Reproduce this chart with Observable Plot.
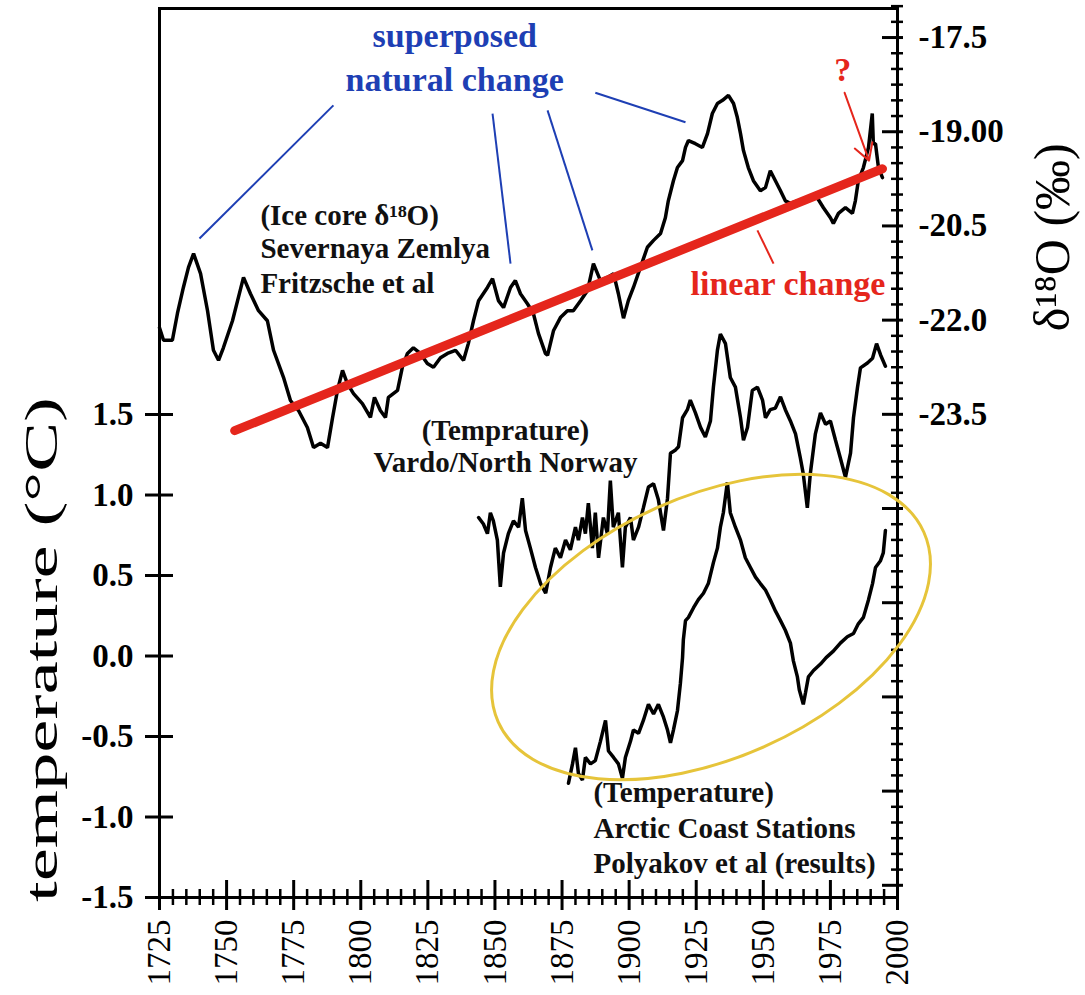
<!DOCTYPE html>
<html>
<head>
<meta charset="utf-8">
<script src="https://cdn.jsdelivr.net/npm/d3@7"></script>
<script src="https://cdn.jsdelivr.net/npm/@observablehq/plot@0.6"></script>
<style>
  html, body { margin: 0; padding: 0; background: #ffffff; }
  #chart svg { display: block; }
</style>
</head>
<body>
<div id="chart"></div>
<script>
// ---------------- data ----------------
// Ice core δ18O, Severnaya Zemlya (right axis, ‰)
const iceYears = [1725,1726.5,1729.8,1731.7,1733.9,1735.8,1737.7,1740.3,1742.9,1745.1,
  1747.0,1748.8,1752.2,1754.1,1756.3,1758.9,1761.9,1765.2,1767.5,1771.2,
  1773.8,1776.8,1780.1,1782.4,1785.0,1787.6,1789.5,1791.3,1793.2,1795.0,
  1797.3,1800.6,1803.6,1805.1,1807.3,1809.2,1810.3,1813.7,1815.5,1817.4,
  1819.6,1822.2,1824.8,1827.1,1829.7,1832.3,1835.3,1838.3,1840.1,1842.0,
  1843.9,1847.2,1849.1,1851.3,1853.2,1855.8,1857.6,1859.5,1862.1,1864.3,
  1866.2,1868.8,1869.6,1871.8,1874.4,1877.0,1879.2,1881.9,1884.5,1886.7,
  1889.3,1891.9,1894.2,1896.0,1897.9,1899.7,1901.6,1904.2,1906.8,1909.1,
  1911.7,1913.5,1914.6,1916.5,1918.0,1919.9,1921.0,1922.1,1924.7,1927.3,
  1929.2,1931.0,1932.9,1934.8,1937.0,1938.9,1940.3,1941.5,1942.6,1944.4,
  1946.3,1948.9,1950.8,1952.6,1954.5,1956.4,1958.2,1960.1,1962.7,1964.9,
  1967.5,1970.2,1972.4,1975.0,1976.1,1978.0,1980.6,1983.2,1984.3,1985.4,
  1987.3,1989.2,1990.6,1991.0,1991.8,1992.9,1994.4];
const iceD18O = [-22.12,-22.32,-22.32,-21.89,-21.48,-21.16,-20.94,-21.26,-21.85,-22.48,
  -22.64,-22.44,-22.01,-21.69,-21.32,-21.58,-21.85,-22.01,-22.48,-22.91,
  -23.28,-23.44,-23.71,-24.03,-23.96,-24.03,-23.55,-23.12,-22.80,-23.01,
  -23.17,-23.33,-23.55,-23.23,-23.44,-23.55,-23.23,-23.12,-22.75,-22.53,
  -22.44,-22.53,-22.69,-22.75,-22.60,-22.53,-22.48,-22.64,-22.37,-22.01,
  -21.69,-21.48,-21.34,-21.69,-21.80,-21.48,-21.37,-21.58,-21.74,-21.89,
  -22.21,-22.53,-22.56,-22.17,-21.96,-21.85,-21.85,-21.69,-21.53,-21.10,
  -21.37,-21.32,-21.26,-21.58,-21.97,-21.69,-21.48,-21.16,-20.84,-20.73,
  -20.62,-20.37,-20.10,-19.78,-19.57,-19.46,-19.25,-19.14,-19.19,-19.25,
  -19.03,-18.71,-18.55,-18.50,-18.42,-18.55,-18.77,-19.03,-19.30,-19.57,
  -19.78,-19.94,-19.89,-19.62,-19.78,-19.94,-20.10,-20.14,-20.10,-20.14,
  -20.05,-20.06,-20.21,-20.37,-20.46,-20.30,-20.21,-20.30,-20.10,-19.78,
  -19.57,-19.25,-18.71,-19.19,-19.19,-19.57,-19.73];

// Vardo / North Norway temperature (left axis, °C)
const vardoYears = [1843.9,1845.7,1847.2,1848.3,1849.4,1850.9,1852.0,1853.2,1855.0,1856.9,
  1858.8,1860.2,1861.4,1863.2,1865.1,1867.0,1868.9,1870.7,1872.5,1874.4,
  1876.3,1878.1,1880.0,1881.1,1882.6,1883.7,1884.8,1886.3,1887.4,1888.6,
  1890.4,1891.9,1893.0,1894.1,1896.0,1897.5,1898.6,1900.5,1901.6,1903.5,
  1905.3,1907.2,1909.1,1910.9,1912.8,1914.3,1915.4,1917.3,1918.4,1919.9,
  1921.7,1922.8,1924.7,1926.6,1928.4,1930.3,1931.4,1932.9,1934.0,1935.9,
  1937.7,1939.6,1941.5,1942.6,1944.1,1945.9,1947.8,1949.7,1950.8,1952.6,
  1954.5,1956.4,1958.2,1960.1,1962.0,1963.8,1964.9,1966.4,1967.5,1969.4,
  1971.3,1973.2,1975.0,1976.9,1978.7,1980.6,1982.5,1983.6,1985.1,1986.2,
  1988.8,1990.7,1992.2,1993.7,1995.5];
const vardoTemp = [0.86,0.82,0.76,0.89,0.84,0.72,0.43,0.64,0.76,0.84,
  0.80,0.98,0.78,0.67,0.55,0.45,0.39,0.55,0.67,0.61,
  0.72,0.66,0.80,0.72,0.86,0.76,0.95,0.67,0.89,0.61,
  0.86,0.76,1.09,0.80,0.89,0.55,0.80,0.86,0.72,0.80,
  0.92,1.05,1.07,0.97,0.78,0.98,1.26,1.28,1.30,1.48,
  1.53,1.59,1.51,1.42,1.36,1.46,1.67,1.90,2.00,1.94,
  1.73,1.67,1.48,1.34,1.42,1.65,1.67,1.59,1.48,1.53,
  1.54,1.61,1.53,1.46,1.38,1.23,1.13,0.92,1.13,1.38,
  1.51,1.44,1.46,1.34,1.23,1.11,1.26,1.48,1.67,1.79,
  1.82,1.85,1.94,1.87,1.80];

// Arctic Coast Stations temperature, Polyakov et al (left axis, °C)
const arcticYears = [1877.4,1878.9,1880.0,1881.1,1882.6,1883.7,1885.6,1887.4,1889.3,1891.2,
  1892.3,1894.2,1896.0,1897.5,1898.6,1900.5,1901.6,1903.5,1905.3,1907.2,
  1909.1,1910.9,1912.8,1914.3,1915.4,1916.5,1918.0,1919.1,1919.9,1920.2,
  1921.0,1922.1,1924.0,1925.8,1927.7,1929.5,1931.4,1932.9,1934.0,1935.1,
  1936.6,1937.7,1939.6,1941.5,1943.3,1945.2,1947.1,1948.9,1950.8,1952.6,
  1954.5,1956.4,1958.2,1960.1,1961.2,1962.7,1963.4,1964.9,1965.7,1966.8,
  1968.7,1971.3,1973.4,1976.1,1978.7,1981.3,1983.6,1985.4,1987.3,1989.2,
  1990.7,1991.8,1993.6,1994.7,1995.5];
const arcticTemp = [-0.79,-0.67,-0.57,-0.73,-0.77,-0.63,-0.67,-0.65,-0.53,-0.40,
  -0.59,-0.63,-0.67,-0.76,-0.63,-0.53,-0.46,-0.48,-0.40,-0.30,
  -0.36,-0.30,-0.38,-0.46,-0.54,-0.46,-0.34,-0.17,-0.01,0.10,
  0.22,0.24,0.30,0.35,0.39,0.45,0.58,0.67,0.80,0.89,
  1.08,0.89,0.80,0.72,0.61,0.55,0.49,0.45,0.41,0.35,
  0.28,0.22,0.16,0.08,-0.03,-0.13,-0.21,-0.30,-0.23,-0.13,
  -0.09,-0.05,-0.01,0.03,0.08,0.12,0.14,0.20,0.24,0.35,
  0.45,0.55,0.59,0.64,0.78];

// Linear change (red) endpoints, in δ18O units
const trendYears = [1753, 1994.4];
const trendD18O = [-23.76, -19.59];

// Tick values and labels
const xTickYears = [1725,1750,1775,1800,1825,1850,1875,1900,1925,1950,1975,2000];
const xMinorYears = d3.range(1725, 2001, 5).filter(y => y % 25 !== 0);
const leftTicks = [-1.5,-1.0,-0.5,0.0,0.5,1.0,1.5];
const leftTickLabels = ["-1.5","-1.0","-0.5","0.0","0.5","1.0","1.5"];
const rightTicks = [-17.5,-19.0,-20.5,-22.0,-23.5];
const rightTickLabels = ["-17.5","-19.00","-20.5","-22.0","-23.5"];
const rightMajorTicks = [-17.5,-19.0,-20.5,-22.0,-23.5,-25.0,-26.5,-28.0,-29.5,-31.0];
const rightMinorTicks = d3.range(-17.0, -31.01, -0.25).filter(v => !rightMajorTicks.some(m => Math.abs(m - v) < 1e-6));

// Annotation texts
const leftTitle = "temperature (°C)";
const rightTitle = "δ¹⁸O (‰)";
const iceLabel = ["(Ice core δ¹⁸O)", "Severnaya Zemlya", "Fritzsche et al"];
const vardoLabel = ["(Temprature)", "Vardo/North Norway"];
const arcticLabel = ["(Temperature)", "Arctic Coast Stations", "Polyakov et al (results)"];
const naturalLabel = ["superposed", "natural change"];

// ---------------- layout ----------------
const W = 1085, H = 995;
const mL = 159, mR = 188, mT = 8, mB = 98;
const plotW = W - mL - mR, plotH = H - mT - mB;
const serif = "'Liberation Serif', 'Times New Roman', Times, serif";
const RED = "#e5261c", BLUE = "#1e3fb4", YELLOW = "#e6c43a";

// right-axis (δ18O ‰) value expressed in left-axis units
const toT = d => 3.8416 + 0.39006 * (d + 17.5);

const idx = n => d3.range(n);

// annotation placement (years / axis units)
const iceLabelPos = {x: 1762.6, d: [-20.33, -20.86, -21.42]};
const vardoLabelPos = {x: 1853.9, t: [1.40, 1.20]};
const arcticLabelPos = {x: 1886.7, t: [-0.85, -1.07, -1.29]};
const naturalPos = {x: 1835.0, d: [-17.48, -18.17]};
const leaders = [
  {x1: 1789.8, d1: -18.58, x2: 1739.9, d2: -20.70},
  {x1: 1849.1, d1: -18.71, x2: 1855.8, d2: -21.10},
  {x1: 1869.6, d1: -18.66, x2: 1886.3, d2: -20.89},
  {x1: 1887.4, d1: -18.38, x2: 1921.0, d2: -18.85}
];
const linearPointer = {x1: 1947.8, d1: -20.57, x2: 1953.8, d2: -21.10};
const linearLabelPos = {x: 1995.5, d: -21.42};
const questionPos = {x: 1979.6, d: -18.02};
const questionArrow = {x1: 1980.3, d1: -18.38, x2: 1989.4, d2: -19.46};
const ellipseSpec = {x: 1930.7, t: 0.177, rx: 233, ry: 131, angle: -24};

const chart = Plot.plot({
  width: W, height: H,
  marginLeft: mL, marginRight: mR, marginTop: mT, marginBottom: mB,
  style: {fontFamily: serif, background: "#ffffff", color: "#000000", overflow: "visible"},
  x: {domain: [1725, 2000], axis: null},
  y: {domain: [-1.5, 4.022], axis: null},
  marks: [
    Plot.frame({stroke: "#000", strokeWidth: 3}),
    // bottom axis ticks (crossing the axis line)
    Plot.tickX(xTickYears, {x: d => d, insetTop: plotH - 17, insetBottom: -13, stroke: "#000", strokeWidth: 3}),
    Plot.tickX(xMinorYears, {x: d => d, insetTop: plotH - 8, insetBottom: -8, stroke: "#000", strokeWidth: 2.5}),
    // left axis ticks
    Plot.tickY(leftTicks, {y: d => d, insetLeft: -14, insetRight: plotW - 14, stroke: "#000", strokeWidth: 3}),
    // right axis ticks (δ18O)
    Plot.tickY(rightMajorTicks, {y: d => toT(d), insetLeft: plotW - 15, insetRight: -6, stroke: "#000", strokeWidth: 3}),
    Plot.tickY(rightMinorTicks, {y: d => toT(d), insetLeft: plotW - 6, insetRight: -6, stroke: "#000", strokeWidth: 2.5}),
    // tick labels
    Plot.axisX(xTickYears, {anchor: "bottom", tickSize: 0, tickPadding: 22, tickRotate: -90,
      fontSize: 33, tickFormat: d => String(d)}),
    Plot.axisY(leftTicks, {anchor: "left", tickSize: 0, tickPadding: 26, fontSize: 33, fontWeight: "bold",
      tickFormat: d => leftTickLabels[leftTicks.findIndex(v => Math.abs(v - d) < 1e-9)]}),
    Plot.axisY(rightTicks.map(toT), {anchor: "right", tickSize: 0, tickPadding: 21, fontSize: 33, fontWeight: "bold",
      textAnchor: "start",
      tickFormat: d => rightTickLabels[rightTicks.findIndex(v => Math.abs(toT(v) - d) < 1e-9)]}),
    // axis titles
    Plot.text([leftTitle], {frameAnchor: "left", textAnchor: "middle", y: [0.04], dx: -117, rotate: -90,
      fontSize: 46, fill: "#000"}),
    Plot.text([rightTitle], {frameAnchor: "right", textAnchor: "middle", y: [toT(-20.68)], dx: 155, rotate: -90,
      fontSize: 50, fill: "#000"}),
    // data series
    Plot.line(idx(iceYears.length), {x: i => iceYears[i], y: i => toT(iceD18O[i]),
      stroke: "#000", strokeWidth: 3.5, strokeLinejoin: "miter"}),
    Plot.line(idx(vardoYears.length), {x: i => vardoYears[i], y: i => vardoTemp[i],
      stroke: "#000", strokeWidth: 3.5, strokeLinejoin: "miter"}),
    Plot.line(idx(arcticYears.length), {x: i => arcticYears[i], y: i => arcticTemp[i],
      stroke: "#000", strokeWidth: 3.5, strokeLinejoin: "miter"}),
    // linear change
    Plot.line(idx(2), {x: i => trendYears[i], y: i => toT(trendD18O[i]),
      stroke: RED, strokeWidth: 9}),
    Plot.link([linearPointer], {x1: "x1", y1: d => toT(d.d1), x2: "x2", y2: d => toT(d.d2),
      stroke: RED, strokeWidth: 2}),
    Plot.text(["linear change"], {x: [linearLabelPos.x], y: [toT(linearLabelPos.d)], textAnchor: "end",
      fontSize: 34, fontWeight: "bold", fill: RED}),
    Plot.text(["?"], {x: [questionPos.x], y: [toT(questionPos.d)], fontSize: 34, fontWeight: "bold", fill: RED}),
    Plot.arrow([questionArrow], {x1: "x1", y1: d => toT(d.d1), x2: "x2", y2: d => toT(d.d2),
      stroke: RED, strokeWidth: 2, headLength: 14}),
    // superposed natural change
    Plot.link(leaders, {x1: "x1", y1: d => toT(d.d1), x2: "x2", y2: d => toT(d.d2),
      stroke: BLUE, strokeWidth: 2}),
    Plot.text(naturalLabel, {x: naturalPos.x, y: (d, i) => toT(naturalPos.d[i]),
      fontSize: 34, fontWeight: "bold", fill: BLUE}),
    // series labels
    Plot.text(iceLabel, {x: iceLabelPos.x, y: (d, i) => toT(iceLabelPos.d[i]), textAnchor: "start",
      fontSize: 29, fontWeight: "bold", fill: "#111"}),
    Plot.text(vardoLabel, {x: vardoLabelPos.x, y: (d, i) => vardoLabelPos.t[i],
      fontSize: 29, fontWeight: "bold", fill: "#111"}),
    Plot.text(arcticLabel, {x: arcticLabelPos.x, y: (d, i) => arcticLabelPos.t[i], textAnchor: "start",
      fontSize: 29, fontWeight: "bold", fill: "#111"})
  ]
});

// the reference's left title is drawn condensed along its length
d3.select(chart).selectAll("text")
  .filter(function () { return this.textContent === leftTitle; })
  .attr("textLength", 505).attr("lengthAdjust", "spacingAndGlyphs");

// yellow ellipse around the Arctic coast series, placed with the chart's own scales
const xs = chart.scale("x"), ys = chart.scale("y");
const cx = xs.apply(ellipseSpec.x), cy = ys.apply(ellipseSpec.t);
d3.select(chart).append("ellipse")
  .attr("cx", 0).attr("cy", 0)
  .attr("rx", ellipseSpec.rx).attr("ry", ellipseSpec.ry)
  .attr("transform", `translate(${cx},${cy}) rotate(${ellipseSpec.angle})`)
  .attr("fill", "none").attr("stroke", YELLOW).attr("stroke-width", 3);

document.getElementById("chart").appendChild(chart);
</script>
</body>
</html>
